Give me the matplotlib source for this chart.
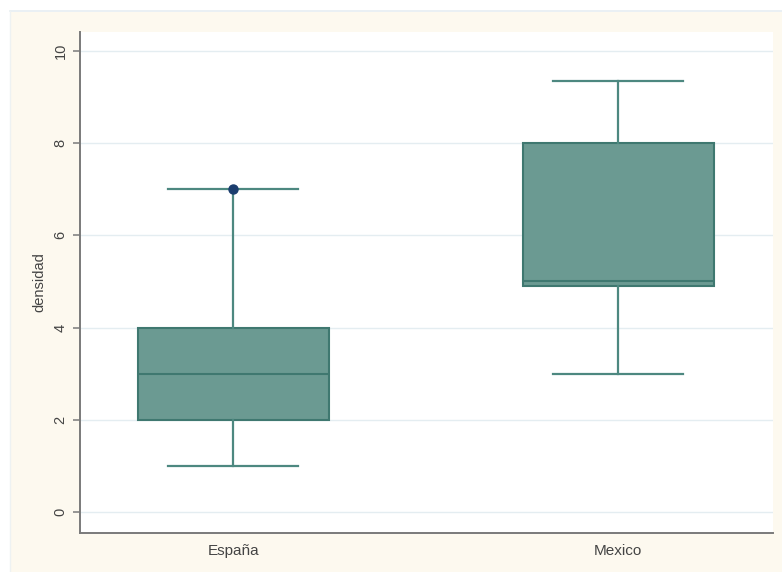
import matplotlib
matplotlib.use("Agg")
import matplotlib.pyplot as plt
from matplotlib.patches import Rectangle
from matplotlib.lines import Line2D

# Box plot summary statistics for densidad by country
categories = ["España", "Mexico"]
q1 = [2.0, 4.9]
medians = [3.0, 5.0]
q3 = [4.0, 8.0]
whisker_low = [1.0, 3.0]
whisker_high = [7.0, 9.35]
outliers = [[7.0], []]
y_ticks = [0, 2, 4, 6, 8, 10]

plt.rcParams["font.family"] = ["Liberation Sans", "DejaVu Sans"]

fig = plt.figure(figsize=(7.82, 5.72), dpi=100, facecolor="white")

# cream graph region with a faint border line
fig.patches.append(Rectangle((10 / 782, 0), 1 - 10 / 782, 1 - 12 / 572,
                             transform=fig.transFigure, facecolor="#fdf9ef",
                             edgecolor="none", zorder=-10))
fig.lines.append(Line2D([10 / 782, 1], [1 - 11 / 572, 1 - 11 / 572],
                        transform=fig.transFigure, color="#e6eef2", lw=1.2,
                        zorder=-5))
fig.lines.append(Line2D([10 / 782, 10 / 782], [0, 1 - 11 / 572],
                        transform=fig.transFigure, color="#eef2f2", lw=1.0,
                        zorder=-5))

ax = fig.add_axes([80 / 782, 1 - 533 / 572, (773 - 80) / 782, (533 - 32) / 572])
ax.set_facecolor("white")

stats = []
for i, name in enumerate(categories):
    stats.append(dict(label=name, q1=q1[i], med=medians[i], q3=q3[i],
                      whislo=whisker_low[i], whishi=whisker_high[i],
                      fliers=outliers[i]))

box_edge = "#3f7870"
ax.bxp(stats, positions=[1, 2], widths=0.496, capwidths=0.338,
       patch_artist=True, showfliers=True,
       boxprops=dict(facecolor="#6b9a92", edgecolor=box_edge, linewidth=1.5),
       medianprops=dict(color=box_edge, linewidth=1.5),
       whiskerprops=dict(color="#4d8880", linewidth=1.6),
       capprops=dict(color="#4d8880", linewidth=1.6),
       flierprops=dict(marker="o", markerfacecolor="#1b3d6e",
                       markeredgecolor="#1b3d6e", markersize=6.5))

ax.set_xlim(0.602, 2.402)
ax.set_ylim(-0.456, 10.41)
ax.set_yticks(y_ticks)
ax.set_yticklabels([str(t) for t in y_ticks], rotation=90, va="center")
ax.yaxis.grid(True, color="#e4edf1", linewidth=1.0)
ax.set_axisbelow(True)

for side in ("top", "right"):
    ax.spines[side].set_visible(False)
for side in ("left", "bottom"):
    ax.spines[side].set_color("#7a7a7a")
    ax.spines[side].set_linewidth(1.4)

ax.tick_params(axis="y", length=5, width=1.1, color="#7a7a7a",
               labelsize=10.5, labelcolor="#444444", pad=4)
ax.tick_params(axis="x", length=0, labelsize=11, labelcolor="#444444", pad=8)
ax.set_ylabel("densidad", fontsize=10.5, color="#444444", labelpad=5)

fig.savefig("out.png", dpi=100, facecolor=fig.get_facecolor())
